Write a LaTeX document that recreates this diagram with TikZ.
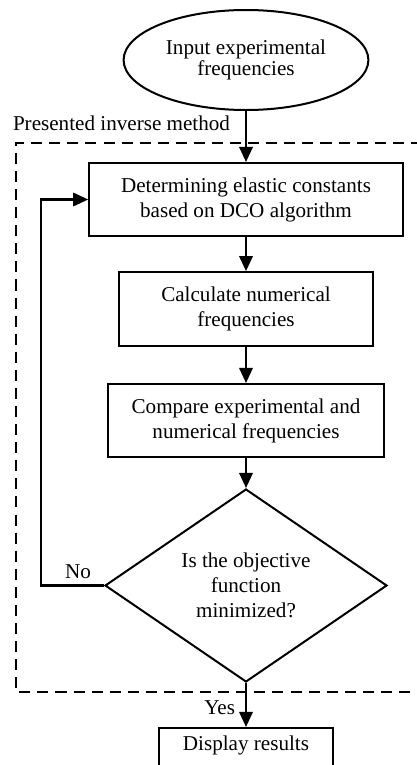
\documentclass[tikz,border=0pt]{standalone}
\usepackage{fontspec}
\setmainfont{Liberation Serif}
\usepackage{tikz}
\usetikzlibrary{arrows.meta,shapes}
\usetikzlibrary{positioning}
\tikzset{
    block/.style={draw=black, rectangle, align=center, inner sep=0pt,
        font=\fontsize{13.2}{15.6}\selectfont},
    startstop/.style={draw=black, ellipse, align=center, inner sep=0pt,
        minimum width=153pt, minimum height=62.5pt, font=\fontsize{13.2}{13.5}\selectfont},
    decision/.style={draw=black, diamond, aspect=1.46, align=center, inner sep=0pt,
        minimum width=176.25pt, minimum height=120.6pt, font=\fontsize{13.2}{15.6}\selectfont},
    flow/.style={draw=black, line width=1.5pt, -{Triangle[length=9.4pt,width=8.3pt]}},
    frame/.style={draw=black, line width=1.25pt, dash pattern=on 6.9pt off 4.4pt},
    tag/.style={inner sep=0pt, font=\fontsize{13.2}{15.6}\selectfont},
}

\begin{document}
\begin{tikzpicture}[x=0.625pt, y=-0.625pt, line width=1.25pt]
	\clip (0,0) rectangle (417,765);
	\draw[frame] (440,143)--(16,143)--(16,692)--(440,692);
	\node[tag, anchor=base west] (title) at (12,130) {Presented inverse method};
	\node[startstop] (input) at (246,60) {Input experimental\\frequencies};
	\node[block, minimum width=196pt, minimum height=45.6pt] (det) at (246,199.5) {Determining elastic constants\\based on DCO algorithm};
	\node[block, minimum width=158.75pt, minimum height=46pt] (calc) at (246,309) {Calculate numerical\\frequencies};
	\node[block, minimum width=173pt, minimum height=45.6pt] (comp) at (246,420.5) {Compare experimental and\\numerical frequencies};
	\node[decision] (check) at (246,585.5) {Is the objective\\function\\minimized?};
	\node[block, anchor=north, minimum width=109pt, inner ysep=4pt, text height=9.75pt, text depth=30pt] (res) at (246,727) {Display results};
	\node[tag] (no) at (78,572) {No};
	\node[tag, anchor=east] (yes) at (236,708) {Yes};
	\coordinate (loop) at (41,585.5);
	% main line
	\draw[flow] (input) -- (det);
	\draw[flow] (det) -- (calc);
	\draw[flow] (calc) -- (comp);
	\draw[flow] (comp) -- (check);
	\draw[flow] (check) -- (res);
	% back to the start
	\draw[flow] (check.west) -- (loop) |- (det.west);
\end{tikzpicture}
\end{document}
